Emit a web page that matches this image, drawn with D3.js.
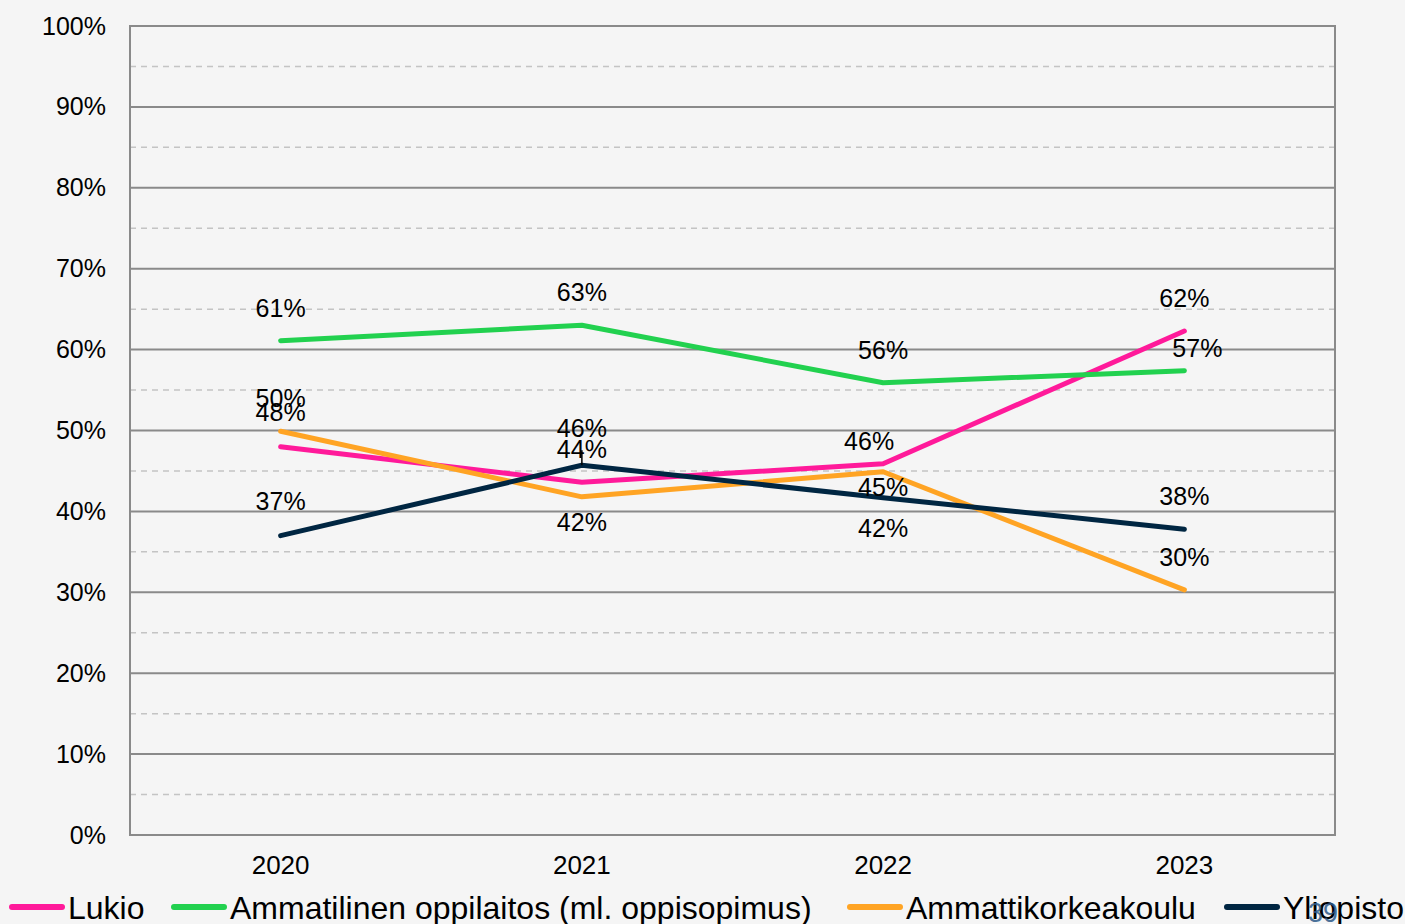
<!DOCTYPE html>
<html>
<head>
<meta charset="utf-8">
<script src="https://cdn.jsdelivr.net/npm/d3@7"></script>
<style>
  html, body { margin: 0; padding: 0; background: #f5f5f5; }
  svg { display: block; font-family: Arial, "Liberation Sans", sans-serif; }
</style>
</head>
<body>
<svg id="chart" width="1405" height="924"></svg>
<script>
// Data
var years = ["2020", "2021", "2022", "2023"];
var seriesNames = ["Lukio", "Ammatilinen oppilaitos (ml. oppisopimus)", "Ammattikorkeakoulu", "Yliopisto"];
var lukio = [48.0, 43.6, 45.9, 62.3];
var ammatillinen = [61.1, 63.0, 55.9, 57.4];
var amk = [49.9, 41.8, 44.9, 30.3];
var yliopisto = [37.0, 45.7, 41.7, 37.8];
var yTicks = [0, 10, 20, 30, 40, 50, 60, 70, 80, 90, 100];

// label placement tweaks (dx, dy from point), per series per year
var labelShift = [
    [[0, -34], [0, -33], [-14, -22], [0, -33]],
    [[0, -32], [0, -33], [0, -33], [13, -22]],
    [[0, -33], [0, 25], [0, 15], [0, -33]],
    [[0, -34], [0, -37], [0, 31], [0, -33]]
];

var COLORS = ["#ff1a9a", "#22d14f", "#ffa424", "#002642"];
var W = 1405, H = 924;
var margin = {left: 130, right: 70, top: 26, bottom: 89};

var svg = d3.select("#chart");
var allSeries = [lukio, ammatillinen, amk, yliopisto];

var x = d3.scaleBand().domain(years).range([margin.left, W - margin.right]);
var y = d3.scaleLinear().domain([0, 100]).range([H - margin.bottom, margin.top]);
var px = function(yr) { return x(yr) + x.bandwidth() / 2; };

// minor dashed grid at 5, 15, ...
var minor = d3.range(5, 100, 10);
svg.append("g").selectAll("line").data(minor).enter().append("line")
    .attr("x1", margin.left).attr("x2", W - margin.right)
    .attr("y1", function(d) { return y(d); }).attr("y2", function(d) { return y(d); })
    .attr("stroke", "#c4c4c4").attr("stroke-width", 1.5).attr("stroke-dasharray", "6,5");

// major grid
svg.append("g").selectAll("line").data(yTicks).enter().append("line")
    .attr("x1", margin.left).attr("x2", W - margin.right)
    .attr("y1", function(d) { return y(d); }).attr("y2", function(d) { return y(d); })
    .attr("stroke", "#8a8a8a").attr("stroke-width", 2);

// plot frame
svg.append("rect")
    .attr("x", margin.left).attr("y", margin.top)
    .attr("width", W - margin.left - margin.right).attr("height", H - margin.top - margin.bottom)
    .attr("fill", "none").attr("stroke", "#8a8a8a").attr("stroke-width", 2);

// y axis labels
var yAxis = d3.axisLeft(y).tickValues(yTicks).tickSize(0).tickPadding(24)
    .tickFormat(function(d) { return d + "%"; });
var gy = svg.append("g").attr("transform", "translate(" + margin.left + ",0)").call(yAxis);
gy.select(".domain").remove();
gy.selectAll("text").attr("font-size", 25).attr("fill", "#000").attr("font-family", "Arial, 'Liberation Sans', sans-serif");

// x axis labels
var xAxis = d3.axisBottom(x).tickSize(0).tickPadding(21);
var gx = svg.append("g").attr("transform", "translate(0," + (H - margin.bottom) + ")").call(xAxis);
gx.select(".domain").remove();
gx.selectAll("text").attr("font-size", 26).attr("fill", "#000").attr("font-family", "Arial, 'Liberation Sans', sans-serif");

// lines
var line = d3.line()
    .x(function(d, i) { return px(years[i]); })
    .y(function(d) { return y(d); });

allSeries.forEach(function(vals, s) {
    svg.append("path")
        .datum(vals)
        .attr("d", line)
        .attr("fill", "none")
        .attr("stroke", COLORS[s])
        .attr("stroke-width", 5)
        .attr("stroke-linecap", "round")
        .attr("stroke-linejoin", "round");
});

// leader line for Yliopisto 2021 label
svg.append("line")
    .attr("x1", px("2021")).attr("x2", px("2021"))
    .attr("y1", y(yliopisto[1]) - 15).attr("y2", y(yliopisto[1]))
    .attr("stroke", "#000").attr("stroke-width", 1.5);

// data labels
allSeries.forEach(function(vals, s) {
    svg.append("g").selectAll("text").data(vals).enter().append("text")
        .attr("x", function(d, i) { return px(years[i]) + labelShift[s][i][0]; })
        .attr("y", function(d, i) { return y(d) + labelShift[s][i][1]; })
        .attr("dy", "0.35em")
        .attr("text-anchor", "middle")
        .attr("font-size", 25)
        .attr("fill", "#000")
        .text(function(d) { return Math.round(d) + "%"; });
});

// legend
var legendX = [10, 172, 848, 1225];
var legend = svg.append("g");
seriesNames.forEach(function(name, s) {
    var g = legend.append("g").attr("transform", "translate(" + legendX[s] + ",907)");
    g.append("line").attr("x1", 2).attr("x2", 52).attr("y1", 0).attr("y2", 0)
        .attr("stroke", COLORS[s]).attr("stroke-width", 6).attr("stroke-linecap", "round");
    g.append("text").attr("x", 58).attr("y", 0).attr("dy", "0.36em")
        .attr("font-size", 32).attr("fill", "#000").text(name);
});

// page number
svg.append("text").attr("x", 1323).attr("y", 913).attr("dy", "0.35em")
    .attr("text-anchor", "middle").attr("font-size", 27).attr("fill", "#2d5a8a").attr("opacity", 0.85)
    .text("39");
</script>
</body>
</html>
